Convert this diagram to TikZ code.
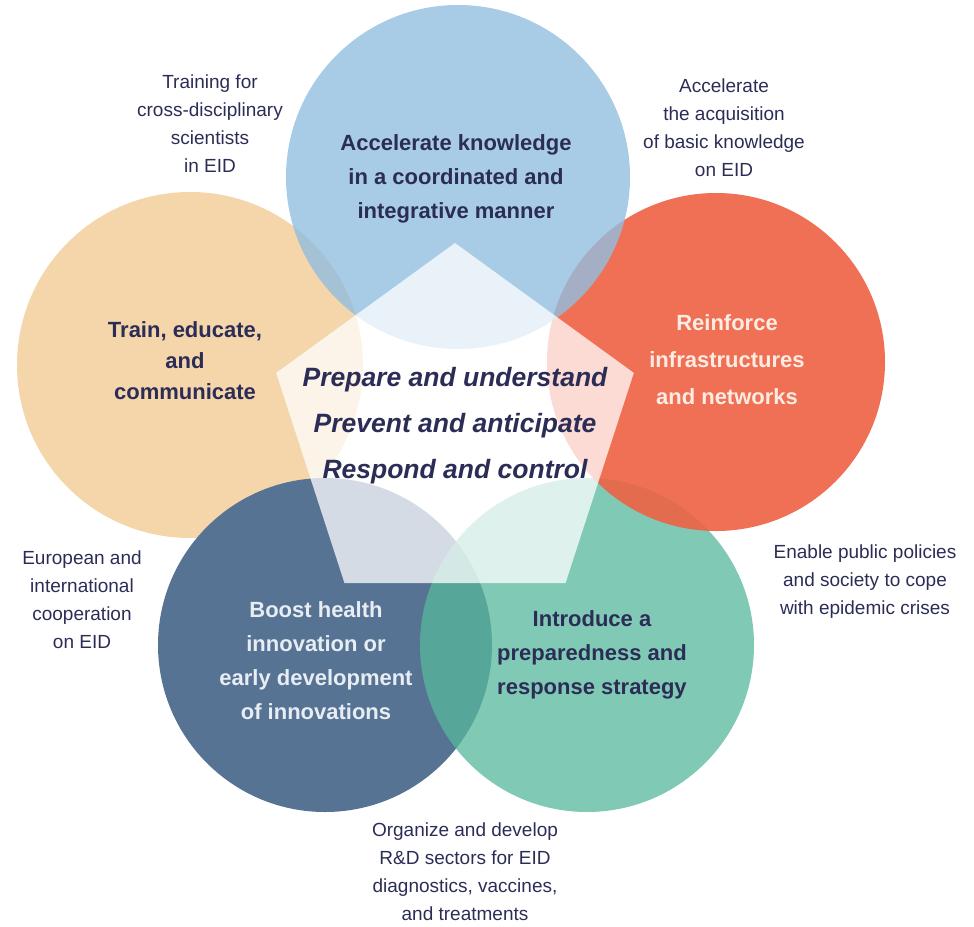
\documentclass[tikz,border=0pt]{standalone}
\usepackage{fontspec}
\setmainfont{Liberation Sans}
\usetikzlibrary{shapes.geometric}

\definecolor{eidtan}{RGB}{245,213,170}
\definecolor{eiddark}{RGB}{86,115,148}
\definecolor{eidteal}{RGB}{86,184,156}
\definecolor{eidred}{RGB}{238,97,68}
\definecolor{eidblue}{RGB}{146,190,224}
\definecolor{eidnavy}{RGB}{44,45,86}
\definecolor{eidpale}{RGB}{253,236,226}
\definecolor{eidmist}{RGB}{232,237,243}

\tikzset{
  goal/.style={align=center, text=eidnavy,
    font=\fontsize{22}{34}\selectfont\bfseries},
  aim/.style={align=center, text=eidnavy,
    font=\fontsize{19}{28}\selectfont},
  pillar/.style={align=center, text=eidnavy,
    font=\fontsize{26.5}{46}\selectfont\bfseries\itshape},
}

\begin{document}
\begin{tikzpicture}[x=1pt,y=-1pt]
  \useasboundingbox (0,0) rectangle (974,926);
  % Circles, back to front
  \fill[eidtan] (190,365) circle (173pt);
  \fill[eiddark] (325,645) circle (167pt);
  \fill[eidteal, fill opacity=0.75] (587,645) circle (167pt);
  \fill[eidred, fill opacity=0.9] (716,362) circle (169pt);
  \fill[eidblue, fill opacity=0.8] (458,177) circle (172pt);
  % Pentagon in the middle
  \node[regular polygon, regular polygon sides=5, minimum size=376pt,
    inner sep=0pt, fill=white, fill opacity=0.75] (core) at (455,431) {};
  \node[pillar] (pillars) at (455,426)
    {Prepare and understand\\Prevent and anticipate\\Respond and control};
  % Texts inside the circles
  \node[goal] (know) at (456,179)
    {Accelerate knowledge\\in a coordinated and\\integrative manner};
  \node[goal, font=\fontsize{22}{31}\selectfont\bfseries] (train) at (185,361)
    {Train, educate,\\and\\communicate};
  \node[goal, text=eidpale, font=\fontsize{22}{37}\selectfont\bfseries] (infra) at (727,360)
    {Reinforce\\infrastructures\\and networks};
  \node[goal, text=eidmist] (boost) at (316,661)
    {Boost health\\innovation or\\early development\\of innovations};
  \node[goal] (plan) at (592,655)
    {Introduce a\\preparedness and\\response strategy};
  % Texts around the circles
  \node[aim] (scientists) at (210,124)
    {Training for\\cross-disciplinary\\scientists\\in EID};
  \node[aim] (basics) at (724,128)
    {Accelerate\\the acquisition\\of basic knowledge\\on EID};
  \node[aim] (coop) at (82,600)
    {European and\\international\\cooperation\\on EID};
  \node[aim] (policy) at (865,582)
    {Enable public policies\\and society to cope\\with epidemic crises};
  \node[aim] (sectors) at (465,872)
    {Organize and develop\\R\&D sectors for EID\\diagnostics, vaccines,\\and treatments};
\end{tikzpicture}
\end{document}
